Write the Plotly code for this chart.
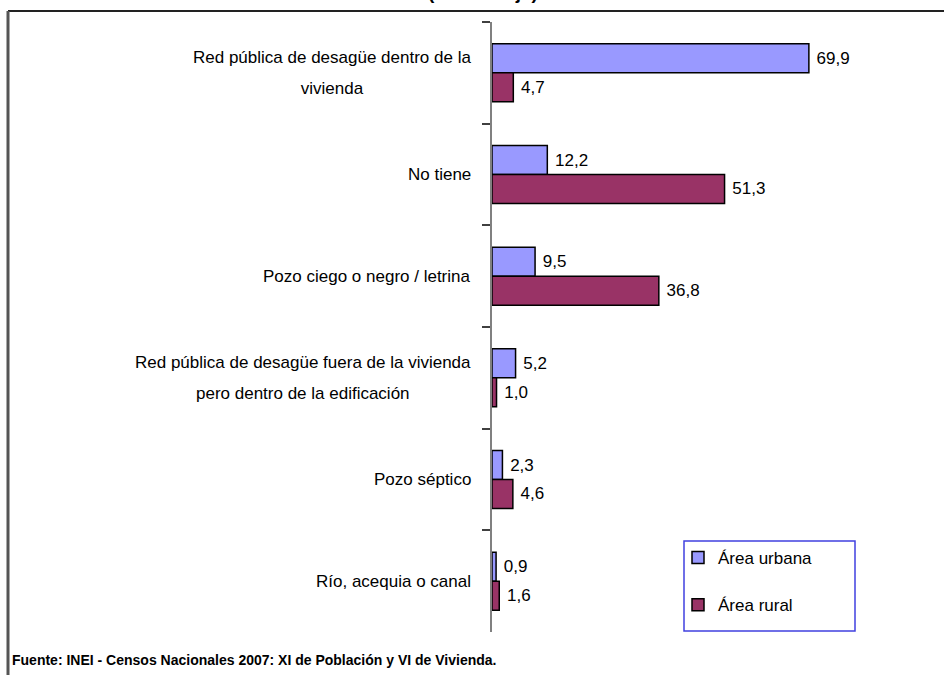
import plotly.graph_objects as go

categories = [
    "Red pública de desagüe dentro de la vivienda",
    "No tiene",
    "Pozo ciego o negro / letrina",
    "Red pública de desagüe fuera de la vivienda pero dentro de la edificación",
    "Pozo séptico",
    "Río, acequia o canal",
]
label_lines = [
    ["Red pública de desagüe dentro de la", "vivienda"],
    ["No tiene"],
    ["Pozo ciego o negro / letrina"],
    ["Red pública de desagüe fuera de la vivienda", "pero dentro de la edificación"],
    ["Pozo séptico"],
    ["Río, acequia o canal"],
]
urbana = [69.9, 12.2, 9.5, 5.2, 2.3, 0.9]
rural = [4.7, 51.3, 36.8, 1.0, 4.6, 1.6]
series_names = ["Área urbana", "Área rural"]
colors = ["#9999FF", "#993366"]

W, H = 944, 675
FONT = "Arial, Liberation Sans, sans-serif"

def px(x):
    return x / W

def py(y):
    return 1 - y / H

def fmt(v):
    return "\u00a0" + f"{v:.1f}".replace(".", ",")

fig = go.Figure()
for name, vals, col, grp in zip(series_names, [urbana, rural], colors, ["u", "r"]):
    fig.add_trace(go.Bar(
        y=categories, x=vals, orientation="h", name=name,
        marker=dict(color=col, line=dict(color="black", width=1.5)),
        text=[fmt(v) for v in vals], textposition="outside",
        textfont=dict(family=FONT, size=17, color="black"),
        cliponaxis=False, legendgroup=grp,
    ))

annotations = []
for cat, lines in zip(categories, label_lines):
    if len(lines) == 1:
        annotations.append(dict(
            x=px(473), xref="paper", y=cat, yref="y", xanchor="right", yanchor="middle",
            text=lines[0], showarrow=False, font=dict(family=FONT, size=17, color="black"),
        ))
    else:
        txt = "<br>".join(f'<span style="font-size:17px">{l}</span>' for l in lines)
        annotations.append(dict(
            x=px(473), xref="paper", y=cat, yref="y", xanchor="right", yanchor="middle",
            text=txt, align="center", showarrow=False,
            font=dict(family=FONT, size=24, color="black"),
        ))

annotations.append(dict(
    x=px(10), xref="paper", y=py(660), yref="paper", xanchor="left", yanchor="middle",
    text="<b>Fuente: INEI - Censos Nacionales 2007: XI de Población y VI de Vivienda.</b>",
    showarrow=False, font=dict(family=FONT, size=14, color="black"),
))
annotations.append(dict(
    x=px(483), xref="paper", y=py(5), yref="paper", xanchor="center", yanchor="bottom",
    text="<b>(Porcentaje)</b>", showarrow=False,
    font=dict(family=FONT, size=19, color="black"),
))

shapes = [
    dict(type="line", xref="paper", yref="paper", x0=px(8), x1=1.0, y0=py(11), y1=py(11),
         line=dict(color="#222222", width=2)),
    dict(type="line", xref="paper", yref="paper", x0=px(8), x1=px(8), y0=py(11), y1=0,
         line=dict(color="#555555", width=3)),
    dict(type="rect", xref="paper", yref="paper", x0=px(684), x1=px(855), y0=py(631), y1=py(541),
         line=dict(color="#4040E0", width=1.5), fillcolor="rgba(0,0,0,0)"),
]

fig.update_layout(
    width=W, height=H,
    margin=dict(l=0, r=0, t=0, b=0),
    paper_bgcolor="white", plot_bgcolor="white",
    barmode="group", bargap=0.43, bargroupgap=0,
    font=dict(family=FONT, size=17, color="black"),
    xaxis=dict(domain=[px(492), px(900)], range=[0, 90], visible=False),
    yaxis=dict(domain=[py(632), py(22)], autorange="reversed", type="category",
               showticklabels=False, showline=True, linecolor="#808080", linewidth=1.5,
               ticks="outside", tickson="boundaries", ticklen=8, tickcolor="#404040",
               tickwidth=1.5, showgrid=False, zeroline=False),
    legend=dict(x=px(678), y=py(540), xanchor="left", yanchor="top",
                bgcolor="rgba(0,0,0,0)", borderwidth=0,
                font=dict(family=FONT, size=17, color="black"),
                traceorder="grouped", tracegroupgap=22, itemwidth=30),
    showlegend=True,
    annotations=annotations,
    shapes=shapes,
)

fig.write_html("out.html", config={"displayModeBar": False},
               post_script="document.body.style.margin='0';")
